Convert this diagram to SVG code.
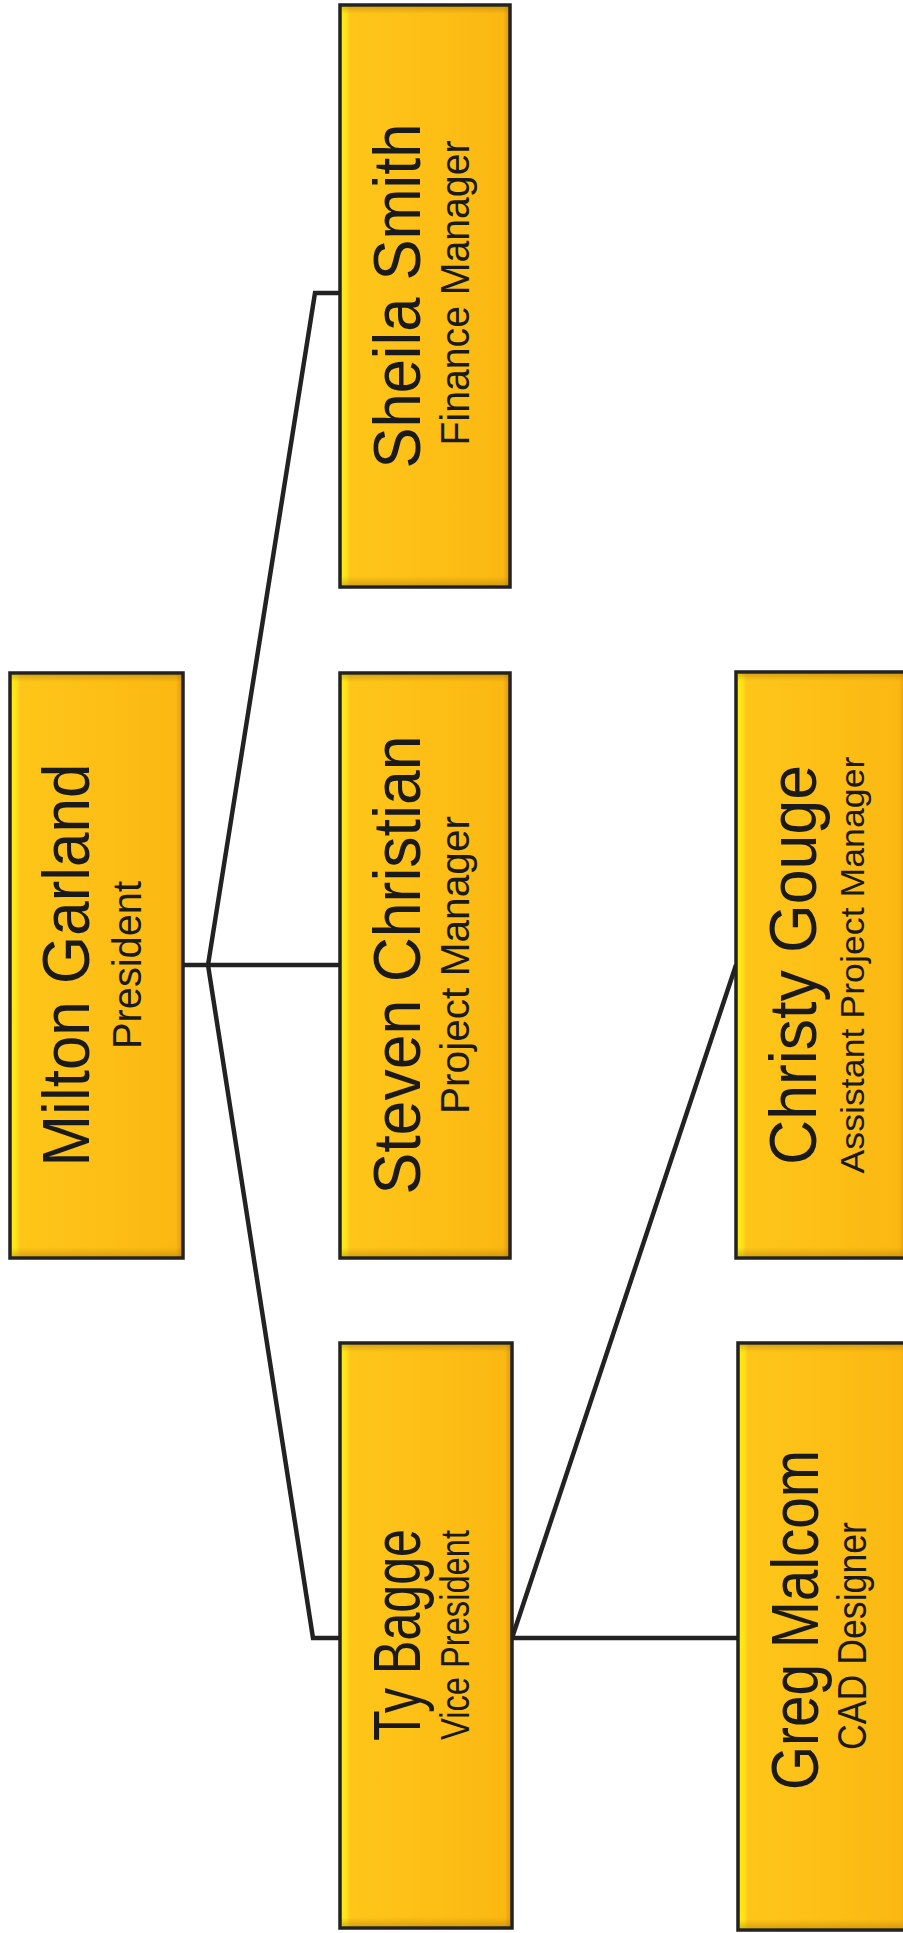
<svg xmlns="http://www.w3.org/2000/svg" width="903" height="1933" viewBox="0 0 903 1933">
<defs>
<linearGradient id="gold" x1="0" y1="0" x2="1" y2="0">
<stop offset="0" stop-color="#FFF000"/>
<stop offset="0.035" stop-color="#FFE21C"/>
<stop offset="0.06" stop-color="#FEC619"/>
<stop offset="0.5" stop-color="#FDBF16"/>
<stop offset="0.96" stop-color="#FBB812"/>
<stop offset="1" stop-color="#D9960A"/>
</linearGradient>
<linearGradient id="shade" x1="0" y1="0" x2="0" y2="1">
<stop offset="0" stop-color="#9A6A00" stop-opacity="0.35"/>
<stop offset="0.012" stop-color="#9A6A00" stop-opacity="0"/>
<stop offset="0.985" stop-color="#9A6A00" stop-opacity="0"/>
<stop offset="1" stop-color="#9A6A00" stop-opacity="0.35"/>
</linearGradient>
</defs>
<style>
.box{fill:url(#gold);stroke:#222;stroke-width:3.5}
.sh{fill:url(#shade);stroke:none}
.name{font-family:"Liberation Sans",Arial,sans-serif;font-size:66px;fill:#1a1a1a;text-anchor:middle}
.sub{font-family:"Liberation Sans",Arial,sans-serif;font-size:40px;fill:#1a1a1a;text-anchor:middle}
.con{fill:none;stroke:#222;stroke-width:4.5;stroke-linejoin:miter}
</style>
<rect width="903" height="1933" fill="#fff"/>
<g id="connectors">
<path class="con" d="M183,965 H208"/>
<path class="con" d="M208,965 H340"/>
<path class="con" d="M208,965 L315,293 H340"/>
<path class="con" d="M208,965 L313,1638 H340"/>
<path class="con" d="M512,1638 H737"/>
<path class="con" d="M512,1638 L736,965"/>
</g>
<g id="milton">
<rect class="box" x="10" y="673" width="173" height="585"/>
<rect class="sh" x="12" y="675" width="169" height="581"/>
<text class="name" transform="translate(89,965) rotate(-90)" textLength="403" lengthAdjust="spacingAndGlyphs">Milton Garland</text>
<text class="sub" transform="translate(141,965) rotate(-90)" textLength="168" lengthAdjust="spacingAndGlyphs">President</text>
</g>
<g id="sheila">
<rect class="box" x="340" y="5" width="170" height="582"/>
<rect class="sh" x="342" y="7" width="166" height="578"/>
<text class="name" transform="translate(420,296) rotate(-90)" textLength="345" lengthAdjust="spacingAndGlyphs">Sheila Smith</text>
<text class="sub" transform="translate(469,293) rotate(-90)" textLength="305" lengthAdjust="spacingAndGlyphs">Finance Manager</text>
</g>
<g id="steven">
<rect class="box" x="340" y="673" width="170" height="585"/>
<rect class="sh" x="342" y="675" width="166" height="581"/>
<text class="name" transform="translate(420,965) rotate(-90)" textLength="459" lengthAdjust="spacingAndGlyphs">Steven Christian</text>
<text class="sub" transform="translate(469,965) rotate(-90)" textLength="298" lengthAdjust="spacingAndGlyphs">Project Manager</text>
</g>
<g id="ty">
<rect class="box" x="340" y="1343" width="172" height="585"/>
<rect class="sh" x="342" y="1345" width="168" height="581"/>
<text class="name" transform="translate(420,1635) rotate(-90)" textLength="212" lengthAdjust="spacingAndGlyphs">Ty Bagge</text>
<text class="sub" transform="translate(469,1635) rotate(-90)" textLength="210" lengthAdjust="spacingAndGlyphs">Vice President</text>
</g>
<g id="christy">
<rect class="box" x="736" y="672" width="170" height="586"/>
<rect class="sh" x="738" y="674" width="166" height="582"/>
<text class="name" transform="translate(816,965) rotate(-90)" textLength="400" lengthAdjust="spacingAndGlyphs">Christy Gouge</text>
<text class="sub" style="font-size:34px" transform="translate(864,965) rotate(-90)" textLength="417" lengthAdjust="spacingAndGlyphs">Assistant Project Manager</text>
</g>
<g id="greg">
<rect class="box" x="738" y="1343" width="170" height="587"/>
<rect class="sh" x="740" y="1345" width="166" height="583"/>
<text class="name" transform="translate(818,1620) rotate(-90)" textLength="340" lengthAdjust="spacingAndGlyphs">Greg Malcom</text>
<text class="sub" transform="translate(866,1636) rotate(-90)" textLength="228" lengthAdjust="spacingAndGlyphs">CAD Designer</text>
</g>
</svg>
